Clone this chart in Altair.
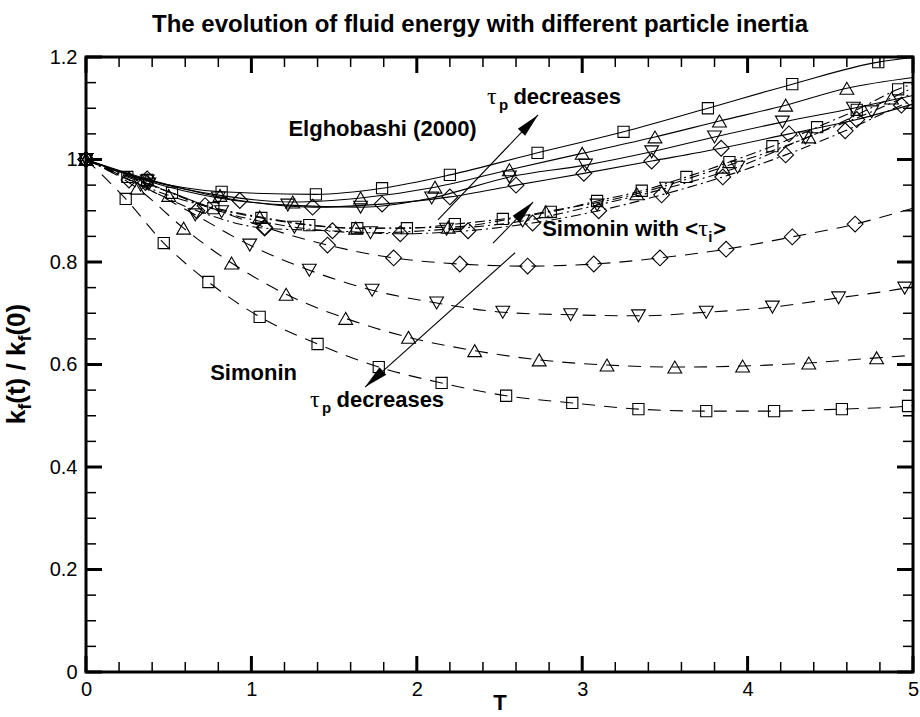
import math
import altair as alt
import pandas as pd

FONT = "Liberation Sans"

# ---------------- data ----------------
# Elghobashi (2000) -- solid lines (marker positions, then value at T=5)
elg_sq_t = [0.0, 0.37, 0.82, 1.39, 1.79, 2.20, 2.73, 3.25, 3.76, 4.27, 4.79]
elg_sq_v = [1.000, 0.960, 0.937, 0.932, 0.944, 0.970, 1.013, 1.054, 1.100, 1.147, 1.190]
elg_tu_t = [0.0, 0.37, 0.81, 1.25, 1.66, 2.11, 2.56, 3.00, 3.44, 3.83, 4.23, 4.60]
elg_tu_v = [1.000, 0.960, 0.930, 0.917, 0.925, 0.946, 0.980, 1.012, 1.044, 1.075, 1.106, 1.139]
elg_td_t = [0.0, 0.37, 0.80, 1.22, 1.66, 2.09, 2.56, 3.02, 3.42, 3.80, 4.21, 4.64]
elg_td_v = [1.000, 0.958, 0.925, 0.911, 0.907, 0.925, 0.966, 0.989, 1.015, 1.044, 1.073, 1.100]
elg_di_t = [0.0, 0.37, 0.93, 1.37, 1.79, 2.20, 2.60, 3.01, 3.42, 3.84, 4.25, 4.66]
elg_di_v = [1.000, 0.962, 0.920, 0.907, 0.913, 0.927, 0.950, 0.973, 0.997, 1.022, 1.050, 1.078]
elg_end_v = [1.199, 1.160, 1.125, 1.108]

# Simonin with <tau_i> -- dash-dot lines
swt_sq_t = [0.0, 0.25, 0.52, 0.77, 1.06, 1.35, 1.64, 1.94, 2.23, 2.52, 2.81, 3.09, 3.36, 3.63, 3.89, 4.15, 4.42, 4.66, 4.91]
swt_sq_v = [1.000, 0.966, 0.935, 0.905, 0.886, 0.872, 0.866, 0.866, 0.874, 0.884, 0.898, 0.919, 0.939, 0.966, 0.995, 1.026, 1.063, 1.097, 1.137]
swt_tu_t = [0.0, 0.50, 1.05, 1.63, 2.19, 2.78, 3.33, 3.85, 4.37, 4.87]
swt_tu_v = [1.000, 0.930, 0.888, 0.866, 0.868, 0.898, 0.933, 0.985, 1.044, 1.120]
swt_td_t = [0.0, 0.38, 0.82, 1.26, 1.72, 2.18, 2.64, 3.09, 3.51, 3.94, 4.35, 4.75]
swt_td_v = [1.000, 0.952, 0.898, 0.868, 0.857, 0.864, 0.880, 0.911, 0.944, 0.985, 1.042, 1.093]
swt_di_t = [0.0, 0.26, 0.67, 1.08, 1.49, 1.90, 2.31, 2.70, 3.10, 3.48, 3.85, 4.23, 4.59, 4.93]
swt_di_v = [1.000, 0.960, 0.900, 0.866, 0.861, 0.855, 0.861, 0.876, 0.900, 0.931, 0.966, 1.009, 1.056, 1.106]
swt_end_v = [1.148, 1.140, 1.130, 1.116]

# Simonin -- dashed lines
sim_sq_t = [0.0, 0.24, 0.47, 0.74, 1.05, 1.40, 1.77, 2.15, 2.54, 2.94, 3.34, 3.75, 4.16, 4.57, 4.97]
sim_sq_v = [1.000, 0.923, 0.837, 0.761, 0.693, 0.640, 0.595, 0.564, 0.539, 0.525, 0.513, 0.509, 0.509, 0.513, 0.519]
sim_tu_t = [0.0, 0.31, 0.59, 0.88, 1.21, 1.57, 1.95, 2.35, 2.74, 3.15, 3.56, 3.97, 4.37, 4.78]
sim_tu_v = [1.000, 0.944, 0.866, 0.798, 0.737, 0.690, 0.653, 0.627, 0.609, 0.599, 0.595, 0.597, 0.603, 0.613]
sim_td_t = [0.0, 0.33, 0.66, 0.99, 1.35, 1.73, 2.12, 2.52, 2.93, 3.34, 3.75, 4.15, 4.55, 4.95]
sim_td_v = [1.000, 0.950, 0.892, 0.833, 0.784, 0.745, 0.720, 0.702, 0.697, 0.695, 0.702, 0.712, 0.730, 0.749]
sim_di_t = [0.0, 0.36, 0.72, 1.08, 1.46, 1.86, 2.26, 2.67, 3.07, 3.47, 3.87, 4.27, 4.65]
sim_di_v = [1.000, 0.955, 0.910, 0.868, 0.833, 0.808, 0.796, 0.792, 0.796, 0.808, 0.825, 0.849, 0.874]
sim_end_v = [0.520, 0.618, 0.752, 0.905]

shapes = ["square", "triangle-up", "triangle-down", "diamond"]
t_end = 5.0

# tick positions / labels
x_major = [0, 1, 2, 3, 4, 5]
x_minor = [0.2, 0.4, 0.6, 0.8, 1.2, 1.4, 1.6, 1.8, 2.2, 2.4, 2.6, 2.8,
           3.2, 3.4, 3.6, 3.8, 4.2, 4.4, 4.6, 4.8]
y_major = [0, 0.2, 0.4, 0.6, 0.8, 1.0, 1.2]
y_minor = [0.05, 0.1, 0.15, 0.25, 0.3, 0.35, 0.45, 0.5, 0.55, 0.65, 0.7, 0.75,
           0.85, 0.9, 0.95, 1.05, 1.1, 1.15]

# ---------------- assemble long table ----------------
groups = {
    "elg": ([elg_sq_t, elg_tu_t, elg_td_t, elg_di_t], [elg_sq_v, elg_tu_v, elg_td_v, elg_di_v], elg_end_v),
    "swt": ([swt_sq_t, swt_tu_t, swt_td_t, swt_di_t], [swt_sq_v, swt_tu_v, swt_td_v, swt_di_v], swt_end_v),
    "sim": ([sim_sq_t, sim_tu_t, sim_td_t, sim_di_t], [sim_sq_v, sim_tu_v, sim_td_v, sim_di_v], sim_end_v),
}
rows = []
for g, (ts, vs, ends) in groups.items():
    for shp, tl, vl, ev in zip(shapes, ts, vs, ends):
        sid = g + "_" + shp
        for t, v in zip(tl, vl):
            rows.append({"T": t, "v": v, "group": g, "shape": shp, "series": sid, "marker": True})
        rows.append({"T": t_end, "v": ev, "group": g, "shape": shp, "series": sid, "marker": False})
df = pd.DataFrame(rows)

W, H = 827, 615
XMAX, YMAX = 5.0, 1.2
XS = alt.Scale(domain=[0, XMAX], nice=False, zero=False)
YS = alt.Scale(domain=[0, YMAX], nice=False, zero=False)
XA = alt.Axis(values=x_major, format="~g", ticks=False, domain=False, grid=False,
              labelFont=FONT, labelFontSize=20, labelColor="black", labelPadding=7,
              labelFlush=False, labelOverlap=False, title=None)
YA = alt.Axis(values=y_major, format="~g", ticks=False, domain=False, grid=False,
              labelFont=FONT, labelFontSize=20, labelColor="black", labelPadding=9,
              labelFlush=False, labelOverlap=False, title=None)


def xe(f):
    return alt.X(f, type="quantitative", scale=XS, axis=XA)


def ye(f):
    return alt.Y(f, type="quantitative", scale=YS, axis=YA)


layers = []

dash = {"elg": [1, 0], "swt": [10, 4, 2, 4], "sim": [13, 9]}
for g in ["sim", "swt", "elg"]:
    sub = df[df.group == g]
    mark = alt.Chart(sub).mark_line(interpolate="monotone", color="black", strokeWidth=1.1)
    if g != "elg":
        mark = alt.Chart(sub).mark_line(interpolate="monotone", color="black", strokeWidth=1.1,
                                        strokeDash=dash[g])
    layers.append(mark.encode(x=xe("T"), y=ye("v"), detail="series:N", order="T:Q"))

msize = {"square": 125, "triangle-up": 190, "triangle-down": 190, "diamond": 250}
mk = df[df.marker]
for shp in shapes:
    layers.append(
        alt.Chart(mk[mk["shape"] == shp]).mark_point(shape=shp, size=msize[shp], filled=False,
                                                     color="black", strokeWidth=1.1, opacity=1)
        .encode(x=xe("T"), y=ye("v"))
    )

# ---------------- arrows ----------------
arrows = [  # tail T, tail v, tip T, tip v
    (2.128, 0.882, 2.733, 1.087),
    (2.461, 0.837, 2.703, 0.917),
    (2.594, 0.818, 1.687, 0.556),
]
HEAD = "M0,0L-0.42,2L0.42,2Z"
for (t1, v1, t2, v2) in arrows:
    a = pd.DataFrame({"T": [t1], "v": [v1], "T2": [t2], "v2": [v2]})
    dxp = (t2 - t1) * W / XMAX
    dyp = -(v2 - v1) * H / YMAX
    ang = math.degrees(math.atan2(dxp, -dyp)) % 360
    layers.append(alt.Chart(a).mark_rule(color="black", strokeWidth=1.1)
                  .encode(x=xe("T"), y=ye("v"), x2="T2:Q", y2="v2:Q"))
    layers.append(alt.Chart(a).mark_point(shape=HEAD, size=576, filled=True, color="black",
                                          opacity=1, strokeWidth=0, angle=ang)
                  .encode(x=xe("T2"), y=ye("v2")))

# ---------------- annotation text (data coordinates) ----------------
# (text, T, v, dx, dy, size, bold, font, align)
notes = [
    ("Elghobashi (2000)", 1.793, 1.060, 0, 0, 22, True, FONT, "center"),
    ("τ", 2.424, 1.122, 0, 0, 24, False, "Liberation Serif", "left"),
    ("p", 2.424, 1.122, 12, 8, 15, True, FONT, "left"),
    ("decreases", 2.424, 1.122, 26.5, 0, 22, True, FONT, "left"),
    ("Simonin with <", 2.758, 0.864, 0, 0, 22, True, FONT, "left"),
    ("τ", 2.758, 0.864, 156, 0, 24, False, "Liberation Serif", "left"),
    ("i", 2.758, 0.864, 166, 8, 15, True, FONT, "left"),
    (">", 2.758, 0.864, 171, 0, 22, True, FONT, "left"),
    ("Simonin", 1.013, 0.583, 0, 0, 22, True, FONT, "center"),
    ("τ", 1.354, 0.531, 0, 0, 24, False, "Liberation Serif", "left"),
    ("p", 1.354, 0.531, 12, 8, 15, True, FONT, "left"),
    ("decreases", 1.354, 0.531, 26.5, 0, 22, True, FONT, "left"),
]
for (txt, t, v, dx, dy, sz, bold, fnt, al) in notes:
    d = pd.DataFrame({"T": [t], "v": [v], "s": [txt]})
    layers.append(alt.Chart(d).mark_text(font=fnt, fontSize=sz, fontWeight="bold" if bold else "normal",
                                         color="black", align=al, baseline="middle", dx=dx, dy=dy)
                  .encode(x=xe("T"), y=ye("v"), text="s:N"))

# ---------------- titles (pixel placement around the plot) ----------------
one = pd.DataFrame({"s": ["x"]})
title_txt = "The evolution of fluid energy with different particle inertia"
layers.append(alt.Chart(one).mark_text(font=FONT, fontSize=24, fontWeight="bold", color="black",
                                       align="left", baseline="middle")
              .encode(x=alt.value(66), y=alt.value(-32), text=alt.value(title_txt)))
layers.append(alt.Chart(one).mark_text(font=FONT, fontSize=22, fontWeight="bold", color="black",
                                       align="center", baseline="middle")
              .encode(x=alt.value(414), y=alt.value(646), text=alt.value("T")))

# y title  k_f(t) / k_f(0), rotated
ypieces = [  # text, x, y, size
    ("k", -61, 367.2, 26),
    ("f", -55, 352.7, 18),
    ("(t) / k", -61, 346.7, 26),
    ("f", -55, 284.6, 18),
    ("(0)", -61, 278.6, 26),
]
for (txt, px, py, sz) in ypieces:
    layers.append(alt.Chart(one).mark_text(font=FONT, fontSize=sz, fontWeight="bold", color="black",
                                           align="left", baseline="alphabetic", angle=270)
                  .encode(x=alt.value(px), y=alt.value(py), text=alt.value(txt)))

# ---------------- inside ticks on all four sides, one small table per side ----------------
px_x = XMAX / W
px_y = YMAX / H
for L, w, xp, yp in [(16, 3.0, x_major, y_major), (10, 1.5, x_minor, y_minor)]:
    n, m = len(xp), len(yp)
    bot = pd.DataFrame({"a": xp, "b": [0.0] * n, "c": [L * px_y] * n})
    top = pd.DataFrame({"a": xp, "b": [YMAX] * n, "c": [YMAX - L * px_y] * n})
    lef = pd.DataFrame({"a": yp, "b": [0.0] * m, "c": [L * px_x] * m})
    rig = pd.DataFrame({"a": yp, "b": [XMAX] * m, "c": [XMAX - L * px_x] * m})
    for d in (bot, top):
        layers.append(alt.Chart(d).mark_rule(color="black", strokeWidth=w)
                      .encode(x=xe("a"), y=ye("b"), y2="c:Q"))
    for d in (lef, rig):
        layers.append(alt.Chart(d).mark_rule(color="black", strokeWidth=w)
                      .encode(y=ye("a"), x=xe("b"), x2="c:Q"))

chart = alt.layer(*layers).properties(
    width=W, height=H,
    autosize=alt.AutoSizeParams(type="none"),
    padding={"left": 86, "top": 57, "right": 7, "bottom": 45},
    background="white",
).configure_view(stroke="black", strokeWidth=3)

chart.save("out.html", embed_options={"renderer": "svg", "actions": False})
